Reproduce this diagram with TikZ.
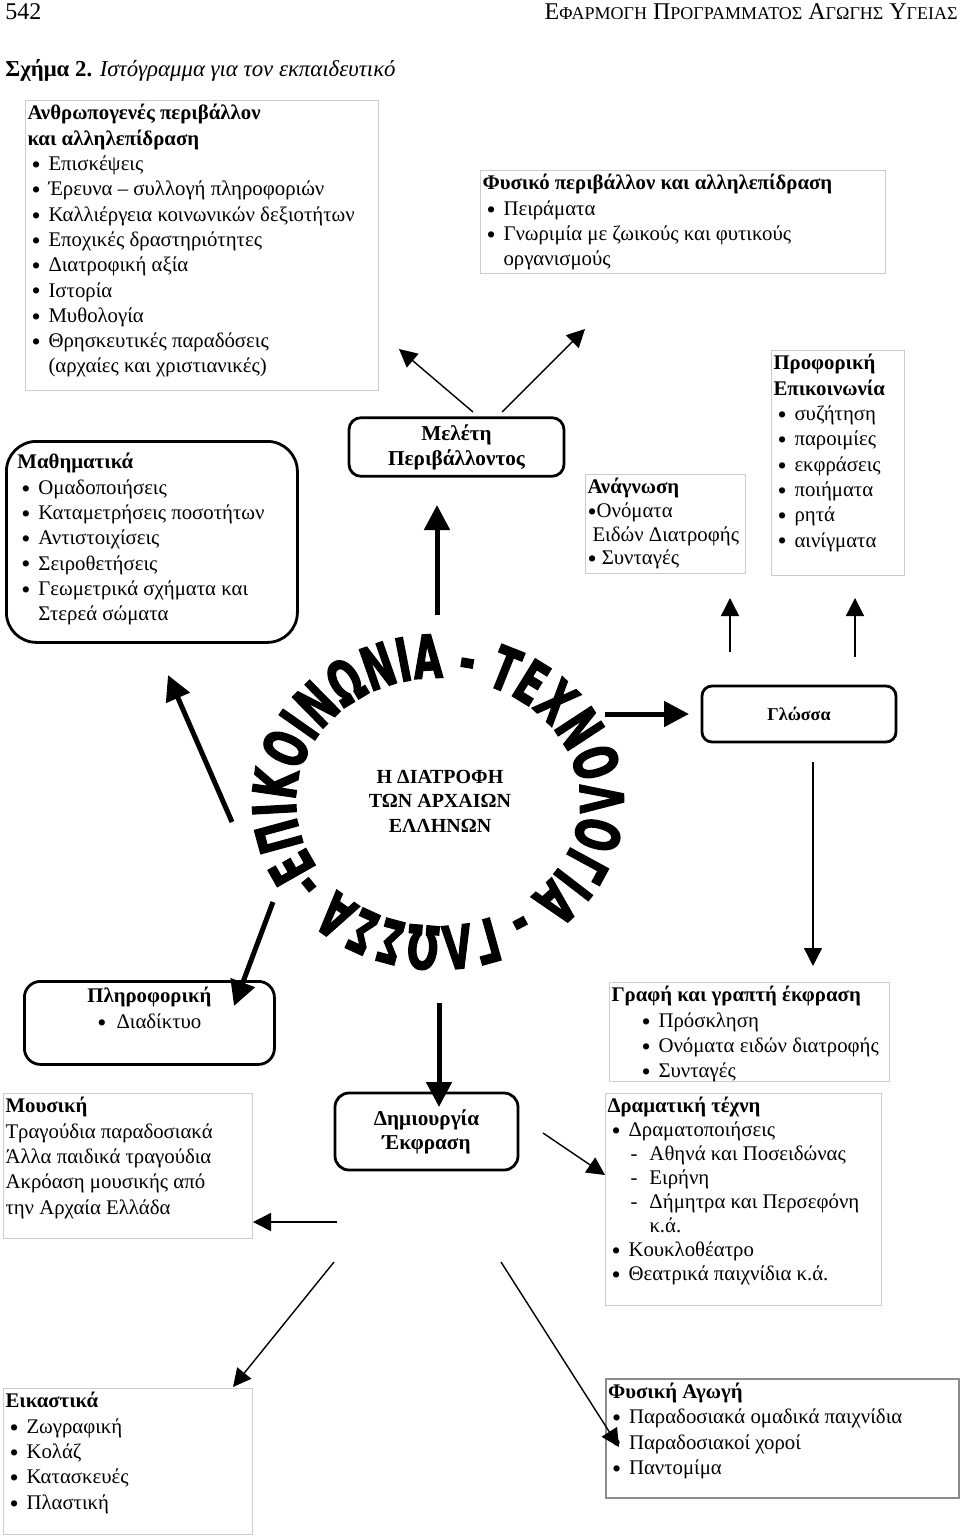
\documentclass[tikz,border=0pt]{standalone}
\usepackage{fontspec}
\setmainfont{Liberation Serif}
\newfontfamily\ringfont{DejaVu Sans}[FakeStretch=0.62, FakeBold=2]
\usetikzlibrary{arrows.meta}
\usetikzlibrary{decorations.text}
\tikzstyle{list box}=[draw=black!20, line width=0.5pt, anchor=north west, inner xsep=1pt, inner ysep=2pt, font=\fontsize{10.4}{12.65}\selectfont]
\tikzstyle{round box}=[draw, line width=1.4pt, rounded corners=6pt, align=center]
\tikzstyle{thin arrow}=[line width=0.7pt, -{Triangle[length=9pt, width=9pt]}]
\tikzstyle{thick arrow}=[line width=2.5pt, -{Triangle[length=12.5pt, width=12.5pt]}]
\newcommand{\boxtext}[3]{\begin{minipage}[t][#2][t]{#1}\raggedright #3\end{minipage}}
\newcommand{\bulletdot}{\raisebox{-0.3ex}{\scalebox{1.25}{•}}}
\newcommand{\bul}[2][0pt]{\par\hangindent=\dimexpr#1+10.5pt\relax\hangafter=1\noindent\hspace*{#1}\makebox[10.5pt][l]{\hspace{2pt}\bulletdot}#2}
\newcommand{\dashline}[1]{\par\hangindent=21pt\hangafter=1\noindent\hspace*{11.5pt}\makebox[9.5pt][l]{-}#1}
\begin{document}
\begin{tikzpicture}[x=0.5pt, y=-0.5pt]
  \useasboundingbox (0,0) rectangle (960,1536);
  % head of page
  \node[anchor=base west, inner sep=0pt, font=\fontsize{12}{14}\selectfont] (pagenum) at (5,20) {542};
  \node[anchor=base east, inner sep=0pt, font=\fontsize{12}{14}\selectfont] (runhead) at (958,20)
    {Ε{\fontsize{9}{10}\selectfont ΦΑΡΜΟΓΗ} Π{\fontsize{9}{10}\selectfont ΡΟΓΡΑΜΜΑΤΟΣ} Α{\fontsize{9}{10}\selectfont ΓΩΓΗΣ} Υ{\fontsize{9}{10}\selectfont ΓΕΙΑΣ}};
  \node[anchor=base west, inner sep=0pt, font=\fontsize{11.4}{14}\selectfont] (caption) at (5,76)
    {\textbf{Σχήμα 2.} \textit{Ιστόγραμμα για τον εκπαιδευτικό}};

  % upper boxes
  \node[list box] (anthropo) at (25,100) {\boxtext{174.5pt}{141pt}{\textbf{Ανθρωπογενές περιβάλλον\\ και αλληλεπίδραση}
    \bul{Επισκέψεις}\bul{Έρευνα – συλλογή πληροφοριών}\bul{Καλλιέργεια κοινωνικών δεξιοτήτων}
    \bul{Εποχικές δραστηριότητες}\bul{Διατροφική αξία}\bul{Ιστορία}\bul{Μυθολογία}
    \bul{Θρησκευτικές παραδόσεις\newline (αρχαίες και χριστιανικές)}}};
  \node[list box] (fysiko) at (480,170) {\boxtext{200.5pt}{47.5pt}{\textbf{Φυσικό περιβάλλον και αλληλεπίδραση}
    \bul{Πειράματα}\bul{Γνωριμία με ζωικούς και φυτικούς\newline οργανισμούς}}};
  \node[round box, minimum width=107.5pt, minimum height=27pt, font=\fontsize{10.6}{12.5}\selectfont\bfseries] (meleti) at (456.5,447)
    {Μελέτη\\ Περιβάλλοντος};
  \node[round box, rounded corners=15pt, anchor=north west, inner xsep=5.5pt, inner ysep=6pt, font=\fontsize{10.4}{12.65}\selectfont] (mathim) at (5,440)
    {\boxtext{134.5pt}{88.5pt}{\textbf{Μαθηματικά}
    \bul{Ομαδοποιήσεις}\bul{Καταμετρήσεις ποσοτήτων}\bul{Αντιστοιχίσεις}\bul{Σειροθετήσεις}
    \bul{Γεωμετρικά σχήματα και\newline Στερεά σώματα}}};
  \node[list box, font=\fontsize{10.4}{11.8}\selectfont] (anagnosi) at (585,474) {\boxtext{78pt}{45.5pt}{\textbf{Ανάγνωση}\\
    \bulletdot Ονόματα\\ \hspace*{2.5pt}Ειδών Διατροφής\\ \bulletdot{} Συνταγές}};
  \node[list box] (proforiki) at (771,350) {\boxtext{64.5pt}{108.5pt}{\textbf{Προφορική\\ Επικοινωνία}
    \bul{συζήτηση}\bul{παροιμίες}\bul{εκφράσεις}\bul{ποιήματα}\bul{ρητά}\bul{αινίγματα}}};

  % centre
  \node[align=center, font=\fontsize{10}{12.25}\selectfont\bfseries] (diatrofi) at (440,801)
    {Η ΔΙΑΤΡΟΦΗ\\ ΤΩΝ ΑΡΧΑΙΩΝ\\ ΕΛΛΗΝΩΝ};
  \coordinate (ring) at (438,802);
  \path[decorate, decoration={text along path, text align={fit to path},
      text={|\ringfont\bfseries\fontsize{30}{30}\selectfont|ΕΠΙΚΟΙΝΩΝΙΑ - ΤΕΧΝΟΛΟΓΙΑ - ΓΛΩΣΣΑ -}}]
    (ring) ++(212:71pt and 62pt) arc[start angle=212, end angle=-148, x radius=71pt, y radius=62pt];
  \node[round box, rounded corners=5pt, minimum width=97pt, minimum height=28pt, font=\fontsize{9}{11}\selectfont\bfseries] (glossa) at (799,714)
    {Γλώσσα};

  % lower boxes
  \node[round box, rounded corners=8pt, anchor=north west, inner xsep=1pt, inner ysep=3pt, font=\fontsize{10.4}{12.65}\selectfont] (pliroforiki) at (23,980)
    {\boxtext{123pt}{35.5pt}{\centering\textbf{Πληροφορική}\\ \bulletdot\hspace{5pt}Διαδίκτυο}};
  \node[list box] (mousiki) at (3,1093) {\boxtext{122.5pt}{68.5pt}{\textbf{Μουσική}\\
    Τραγούδια παραδοσιακά\\ Άλλα παιδικά τραγούδια\\ Ακρόαση μουσικής από\\ την Αρχαία Ελλάδα}};
  \node[round box, rounded corners=7pt, minimum width=91.5pt, minimum height=38.5pt, font=\fontsize{10.6}{12}\selectfont\bfseries] (dimiourgia) at (426.5,1131.5)
    {Δημιουργία\\ Έκφραση};
  \node[list box] (grafi) at (609,982) {\boxtext{138pt}{45.5pt}{\textbf{Γραφή και γραπτή έκφραση}
    \bul[13pt]{Πρόσκληση}\bul[13pt]{Ονόματα ειδών διατροφής}\bul[13pt]{Συνταγές}}};
  \node[list box, font=\fontsize{10.4}{12}\selectfont] (dramatiki) at (605,1093) {\boxtext{136pt}{102pt}{\textbf{Δραματική τέχνη}
    \bul{Δραματοποιήσεις}\dashline{Αθηνά και Ποσειδώνας}\dashline{Ειρήνη}
    \dashline{Δήμητρα και Περσεφόνη\newline κ.ά.}\bul{Κουκλοθέατρο}\bul{Θεατρικά παιχνίδια κ.ά.}}};
  \node[list box] (eikastika) at (3,1388) {\boxtext{122.5pt}{69pt}{\textbf{Εικαστικά}
    \bul{Ζωγραφική}\bul{Κολάζ}\bul{Κατασκευές}\bul{Πλαστική}}};
  \node[list box, draw=black!45, line width=1pt] (fysiki) at (605,1378) {\boxtext{174.5pt}{55.5pt}{\textbf{Φυσική Αγωγή}
    \bul{Παραδοσιακά ομαδικά παιχνίδια}\bul{Παραδοσιακοί χοροί}\bul{Παντομίμα}}};

  % arrow ends
  \coordinate (meleti left) at (473,412);
  \coordinate (anthropo in) at (399,349);
  \coordinate (meleti right) at (502,412);
  \coordinate (fysiko in) at (585,329);
  \coordinate (ring top) at (437,615);
  \coordinate (meleti in) at (437,505);
  \coordinate (ring left) at (232,822);
  \coordinate (mathim in) at (168,675);
  \coordinate (ring right) at (605,714);
  \coordinate (glossa in) at (689,714);
  \coordinate (glossa left) at (730,652);
  \coordinate (anagnosi in) at (730,598);
  \coordinate (glossa right) at (855,657);
  \coordinate (proforiki in) at (855,598);
  \coordinate (glossa out) at (813,762);
  \coordinate (grafi in) at (813,966);
  \coordinate (ring low) at (273,902);
  \coordinate (pliroforiki in) at (234,1006);
  \coordinate (ring bottom) at (439,1003);
  \coordinate (dimiourgia in) at (439,1107);
  \coordinate (dimiourgia right) at (543,1133);
  \coordinate (dramatiki in) at (605,1175);
  \coordinate (dimiourgia left) at (337,1222);
  \coordinate (mousiki in) at (253,1222);
  \coordinate (dimiourgia sw) at (334,1262);
  \coordinate (eikastika in) at (233,1387);
  \coordinate (dimiourgia se) at (501,1262);
  \coordinate (fysiki in) at (619,1447);

  \draw[thin arrow] (meleti left) -- (anthropo in);
  \draw[thin arrow] (meleti right) -- (fysiko in);
  \draw[thick arrow] (ring top) -- (meleti in);
  \draw[thick arrow] (ring left) -- (mathim in);
  \draw[thick arrow] (ring right) -- (glossa in);
  \draw[thin arrow] (glossa left) -- (anagnosi in);
  \draw[thin arrow] (glossa right) -- (proforiki in);
  \draw[thin arrow] (glossa out) -- (grafi in);
  \draw[thick arrow] (ring low) -- (pliroforiki in);
  \draw[thick arrow] (ring bottom) -- (dimiourgia in);
  \draw[thin arrow] (dimiourgia right) -- (dramatiki in);
  \draw[thin arrow] (dimiourgia left) -- (mousiki in);
  \draw[thin arrow] (dimiourgia sw) -- (eikastika in);
  \draw[thin arrow] (dimiourgia se) -- (fysiki in);
\end{tikzpicture}
\end{document}
